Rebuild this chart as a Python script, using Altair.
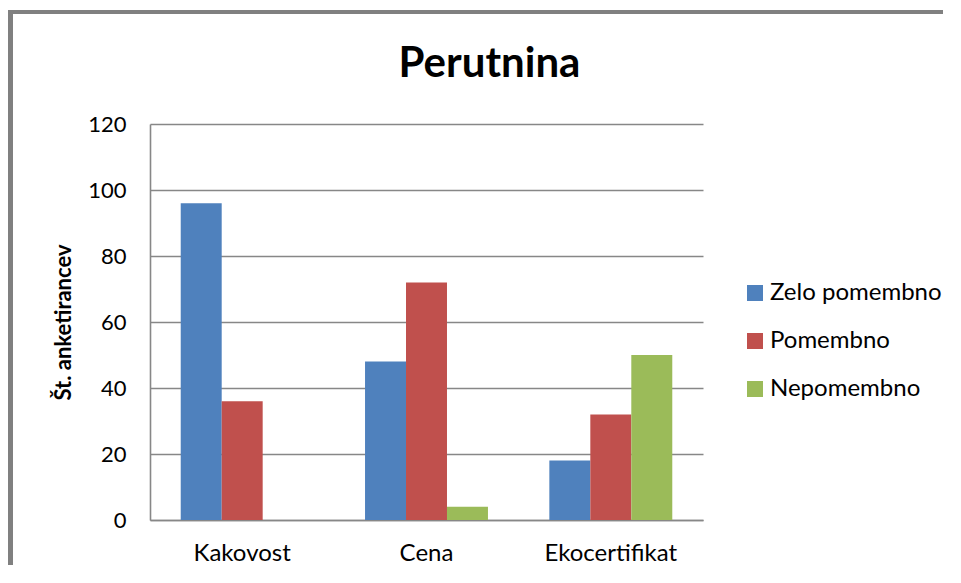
import altair as alt
import pandas as pd

categories = ["Kakovost", "Cena", "Ekocertifikat"]
series = ["Zelo pomembno", "Pomembno", "Nepomembno"]
zelo_pomembno = [96, 48, 18]
pomembno = [36, 72, 32]
nepomembno = [0, 4, 50]
colors = ["#4F81BD", "#C0504D", "#9BBB59"]
y_ticks = [0, 20, 40, 60, 80, 100, 120]

rows = []
for i, c in enumerate(categories):
    for s, vals in zip(series, [zelo_pomembno, pomembno, nepomembno]):
        rows.append({"Kategorija": c, "Serija": s, "Vrednost": vals[i]})
df = pd.DataFrame(rows)

FONT = "Lato"
GRID = "#878787"

bars = alt.Chart(df).mark_bar().encode(
    x=alt.X(
        "Kategorija:N",
        sort=categories,
        scale=alt.Scale(paddingInner=0.333, paddingOuter=0.1667),
        axis=alt.Axis(
            title=None, labelAngle=0, ticks=False, tickSize=0, labelPadding=21,
            labelFontSize=24, labelFont=FONT, labelColor="#000000",
            domainColor=GRID, domainWidth=1.6, grid=False,
        ),
    ),
    xOffset=alt.XOffset("Serija:N", sort=series,
                        scale=alt.Scale(paddingInner=0, paddingOuter=0)),
    y=alt.Y(
        "Vrednost:Q",
        scale=alt.Scale(domain=[0, 120], nice=False),
        axis=alt.Axis(
            values=y_ticks, title="Št. anketirancev", titleFont=FONT,
            titleFontSize=22, titleFontWeight="bold", titleColor="#000000",
            titlePadding=12, ticks=False, tickSize=0, labelPadding=24,
            labelFontSize=22, labelFont=FONT, labelColor="#000000",
            domainColor=GRID, domainWidth=1.6,
            grid=True, gridColor=GRID, gridWidth=1.4,
        ),
    ),
    color=alt.Color(
        "Serija:N",
        sort=series,
        scale=alt.Scale(domain=series, range=colors),
        legend=alt.Legend(
            title=None, orient="none", legendX=593, legendY=157,
            symbolType="square", symbolSize=256, symbolStrokeWidth=0,
            labelFontSize=24, labelFont=FONT, labelColor="#000000",
            labelLimit=300, rowPadding=24, labelOffset=3, padding=0,
        ),
    ),
)

frame_data = alt.Data(values=[{"k": 1}])
frame_left = alt.Chart(frame_data).mark_rule(color="#808080", strokeWidth=5).encode(
    x=alt.value(-139.5), y=alt.value(-114), y2=alt.value(520)
)
frame_top = alt.Chart(frame_data).mark_rule(color="#808080", strokeWidth=4).encode(
    x=alt.value(-142), x2=alt.value(900), y=alt.value(-112)
)

chart = alt.layer(bars, frame_left, frame_top).properties(
    width=553,
    height=396,
    title=alt.Title("Perutnina", fontSize=42, fontWeight="bold", font=FONT,
                    color="#000000", anchor="middle", dx=63, offset=-78),
    autosize=alt.AutoSizeParams(type="none"),
    padding={"left": 142, "top": 116, "right": 240, "bottom": 45},
).configure_view(stroke=None)

chart.save("out.html", embed_options={"renderer": "svg", "actions": False})
